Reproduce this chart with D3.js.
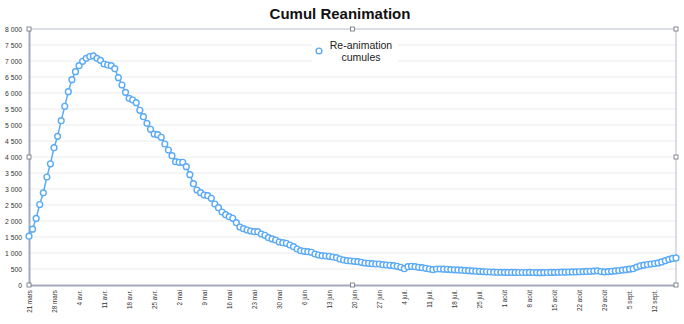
<!DOCTYPE html>
<html><head><meta charset="utf-8">
<script src="https://cdn.jsdelivr.net/npm/d3@7"></script>
<style>
html,body{margin:0;padding:0;background:#fff;}
svg{display:block;font-family:"Liberation Sans",Arial,Helvetica,sans-serif;}
</style></head>
<body><svg id="c" width="684" height="324"></svg>
<script>
const startDate = "2020-03-21";
const values = [
1525,1746,2082,2516,2880,3375,3787,
4291,4646,5135,5584,6042,6417,6667,6854,6990,7083,7140,7160,7083,7021,6906,6875,6854,6760,
6480,6250,6021,5833,5781,5698,5460,
5260,5052,4865,4719,4698,4615,4406,4219,4041,3853,3834,3834,3698,3448,3166,2969,2885,2813,2791,2709,2531,2416,2281,2197,2135,2084,1947,1813,1760,1719,1688,1666,1666,1594,1553,1478,
1440,
1406,1344,1322,1303,1250,1197,1125,1072,1053,1041,1022,969,938,916,906,897,875,853,813,781,760,750,740,729,709,688,678,666,656,656,635,625,615,603,584,553,510,572,584,572,553,541,522,500,478,500,500,
495,490,482,475,470,462,455,448,440,432,425,418,412,406,400,398,395,393,392,393,392,390,390,391,393,390,388,386,388,390,393,396,398,400,402,405,408,410,414,418,423,428,435,442,420,410,418,428,440,452,465,480,495,510,560,600,620,640,655,670,690,720,760,800,830,845
];
const tickLabels = ["21 mars","28 mars","4 avr.","11 avr.","18 avr.","25 avr.","2 mai","9 mai","16 mai","23 mai","30 mai","6 juin","13 juin","20 juin","27 juin","4 juil.","11 juil.","18 juil.","25 juil.","1 août","8 août","15 août","22 août","29 août","5 sept.","12 sept."];
const yTicks = [0,500,1000,1500,2000,2500,3000,3500,4000,4500,5000,5500,6000,6500,7000,7500,8000];
const title = "Cumul Reanimation";
const legendLines = ["Re-animation","cumules"];

const parse = d3.utcParse("%Y-%m-%d");
const d0 = parse(startDate);
const data = values.map((v,i)=>({date:d3.utcDay.offset(d0,i), v}));
const tickDates = tickLabels.map((t,i)=>d3.utcDay.offset(d0,i*7));

const L=29,R=676,T=29,B=285;
const x = d3.scaleUtc().domain([d0, data[data.length-1].date]).range([L,R]);
const y = d3.scaleLinear().domain([0,8000]).range([B,T]);
const svg = d3.select("#c");
const blue = "#5aaaf7";
const axisCol = "#a3a9bd";

// gridlines
svg.append("g").selectAll("line").data(yTicks.filter(t=>t>0 && t<8000)).join("line")
  .attr("x1",L).attr("x2",R).attr("y1",d=>y(d)).attr("y2",d=>y(d))
  .attr("stroke","#ececec").attr("stroke-width",1);

// frame top/right
svg.append("line").attr("x1",L).attr("x2",R).attr("y1",T).attr("y2",T).attr("stroke","#b8bccb").attr("stroke-width",1);
svg.append("line").attr("x1",R).attr("x2",R).attr("y1",T).attr("y2",B).attr("stroke","#b8bccb").attr("stroke-width",1);

// y axis
const yAxis = d3.axisLeft(y).tickValues(yTicks).tickSize(0).tickPadding(7)
  .tickFormat(d=>d3.format(",")(d).replace(/,/g," "));
const gy = svg.append("g").attr("transform",`translate(${L},0)`).call(yAxis);
gy.select(".domain").attr("stroke",axisCol).attr("stroke-width",2);
gy.selectAll("text").attr("font-size","6.8px").attr("fill","#333");

// x axis
const xAxis = d3.axisBottom(x).tickValues(tickDates).tickSize(0).tickPadding(0)
  .tickFormat((d,i)=>tickLabels[i]);
const gx = svg.append("g").attr("transform",`translate(0,${B})`).call(xAxis);
gx.select(".domain").attr("stroke",axisCol).attr("stroke-width",2);
gx.selectAll("text").attr("font-size","6.3px").attr("fill","#333")
  .attr("text-anchor","end").attr("transform","rotate(-90)")
  .attr("x",-5).attr("y",0).attr("dy","0.35em");

// line
svg.append("path").datum(data)
  .attr("d",d3.line().x(d=>x(d.date)).y(d=>y(d.v)))
  .attr("fill","none").attr("stroke",blue).attr("stroke-width",1.5);
svg.append("g").selectAll("circle").data(data).join("circle")
  .attr("cx",d=>x(d.date)).attr("cy",d=>y(d.v)).attr("r",2.9)
  .attr("fill","#fff").attr("stroke",blue).attr("stroke-width",1.4);

// handles
const hx=[L,(L+R)/2,R], hy=[T,(T+B)/2,B];
const handles=[];
hx.forEach(a=>hy.forEach(b=>{ if(!(a===(L+R)/2 && b===(T+B)/2)) handles.push([a,b]); }));
svg.append("g").selectAll("rect").data(handles).join("rect")
  .attr("x",d=>d[0]-2).attr("y",d=>d[1]-2).attr("width",4).attr("height",4)
  .attr("fill","#fff").attr("stroke","#6b6f7c").attr("stroke-width",0.8);

// legend
svg.append("rect").attr("x",312).attr("y",38).attr("width",86).attr("height",26).attr("fill","#fff");
svg.append("circle").attr("cx",319).attr("cy",51).attr("r",2.9).attr("fill","#fff").attr("stroke",blue).attr("stroke-width",1.4);
svg.append("g").selectAll("text").data(legendLines).join("text")
  .attr("x",361).attr("y",(d,i)=>49+i*11.5).attr("text-anchor","middle")
  .attr("font-size","10.5px").attr("fill","#222").text(d=>d);

// title
svg.append("text").attr("x",340).attr("y",19).attr("text-anchor","middle")
  .attr("font-size","15px").attr("font-weight","bold").attr("fill","#111").text(title);
</script></body></html>
